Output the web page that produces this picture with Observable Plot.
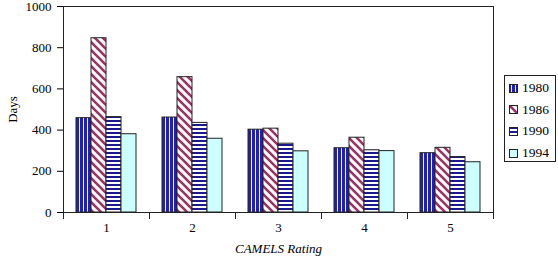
<!DOCTYPE html>
<html>
<head>
<meta charset="utf-8">
<script src="https://cdn.jsdelivr.net/npm/d3@7"></script>
<script src="https://cdn.jsdelivr.net/npm/@observablehq/plot@0.6"></script>
<style>
  html, body { margin: 0; padding: 0; background: white; }
  #wrap { position: relative; width: 558px; height: 258px; font-family: "Liberation Serif", "Times New Roman", serif; }
  g[aria-label="fx-axis label"] text { font-style: italic; }
  #legend { position: absolute; left: 504px; top: 75px; width: 52px; height: 87px; border: 1px solid #222; box-sizing: border-box; font-size: 13.5px; }
  .item { position: absolute; left: 4px; display: flex; align-items: center; height: 16px; }
  .item svg { margin-right: 4px; }
</style>
</head>
<body>
<div id="wrap"><div id="legend"></div></div>
<script>
const ratings = ["1", "2", "3", "4", "5"];
const years = ["1980", "1986", "1990", "1994"];
const days1980 = [458, 461, 402, 312, 288];
const days1986 = [846, 657, 407, 363, 314];
const days1990 = [463, 435, 334, 302, 269];
const days1994 = [380, 358, 297, 298, 244];
const yTicks = [0, 200, 400, 600, 800, 1000];

const series = [days1980, days1986, days1990, days1994];
const data = ratings.flatMap((r, i) => years.map((y, j) => ({rating: r, year: y, days: series[j][i]})));
const fills = years.map(y => `url(#p${y})`);

const chart = Plot.plot({
  width: 558, height: 258,
  marginLeft: 62, marginRight: 64, marginTop: 6, marginBottom: 46,
  style: {fontFamily: "Liberation Serif, Times New Roman, serif", fontSize: "13px", color: "black", background: "transparent"},
  fx: {domain: ratings, padding: 0},
  x: {domain: years, paddingInner: 0, paddingOuter: 0.73, axis: null},
  y: {domain: [0, 1000]},
  color: {domain: years, range: fills},
  marks: [
    Plot.barY(data, {fx: "rating", x: "year", y: "days", fill: "year", stroke: "#222", strokeWidth: 1}),
    Plot.frame({anchor: "top", stroke: "#222"}),
    Plot.frame({anchor: "bottom", stroke: "#222"}),
    Plot.frame({anchor: "left", insetTop: 206, insetBottom: -6, stroke: "#222"}),
    Plot.frame({anchor: "left", insetBottom: -6, facetAnchor: "left", stroke: "#222"}),
    Plot.frame({anchor: "right", insetBottom: -6, facetAnchor: "right", stroke: "#222"}),
    Plot.axisY({ticks: yTicks, tickSize: 6, tickPadding: 6, tickFormat: d => String(d), label: "Days", labelAnchor: "center", labelArrow: "none", labelOffset: 56}),
    Plot.axisFx({anchor: "bottom", tickSize: 0, tickPadding: 10, label: "CAMELS Rating", labelAnchor: "center", labelArrow: "none", labelOffset: 40})
  ]
});

const svg = d3.select(chart);
const defs = svg.insert("defs", ":first-child");
const p80 = defs.append("pattern").attr("id", "p1980").attr("patternUnits", "userSpaceOnUse").attr("width", 4).attr("height", 4);
p80.append("rect").attr("width", 4).attr("height", 4).attr("fill", "#2222a6");
p80.append("rect").attr("x", 2).attr("width", 1).attr("height", 4).attr("fill", "white");
const p86 = defs.append("pattern").attr("id", "p1986").attr("patternUnits", "userSpaceOnUse").attr("width", 8).attr("height", 8);
p86.append("rect").attr("width", 8).attr("height", 8).attr("fill", "white");
p86.append("path").attr("d", "M-2,6L2,10M0,0L8,8M6,-2L10,2").attr("stroke", "#993366").attr("stroke-width", 2.6);
const p90 = defs.append("pattern").attr("id", "p1990").attr("patternUnits", "userSpaceOnUse").attr("width", 4).attr("height", 4);
p90.append("rect").attr("width", 4).attr("height", 4).attr("fill", "white");
p90.append("rect").attr("width", 4).attr("height", 2).attr("fill", "#1a1a8c");
const p94 = defs.append("pattern").attr("id", "p1994").attr("patternUnits", "userSpaceOnUse").attr("width", 4).attr("height", 4);
p94.append("rect").attr("width", 4).attr("height", 4).attr("fill", "#ccffff");

document.getElementById("wrap").prepend(chart);

const legend = d3.select("#legend");
years.forEach((y, i) => {
  const item = legend.append("div").attr("class", "item").style("top", `${4 + i * 21.7}px`);
  const s = item.append("svg").attr("width", 9).attr("height", 9);
  s.append("rect").attr("x", 0.5).attr("y", 0.5).attr("width", 8).attr("height", 8).attr("fill", fills[i]).attr("stroke", "#222");
  item.append("span").text(y);
});
</script>
</body>
</html>
